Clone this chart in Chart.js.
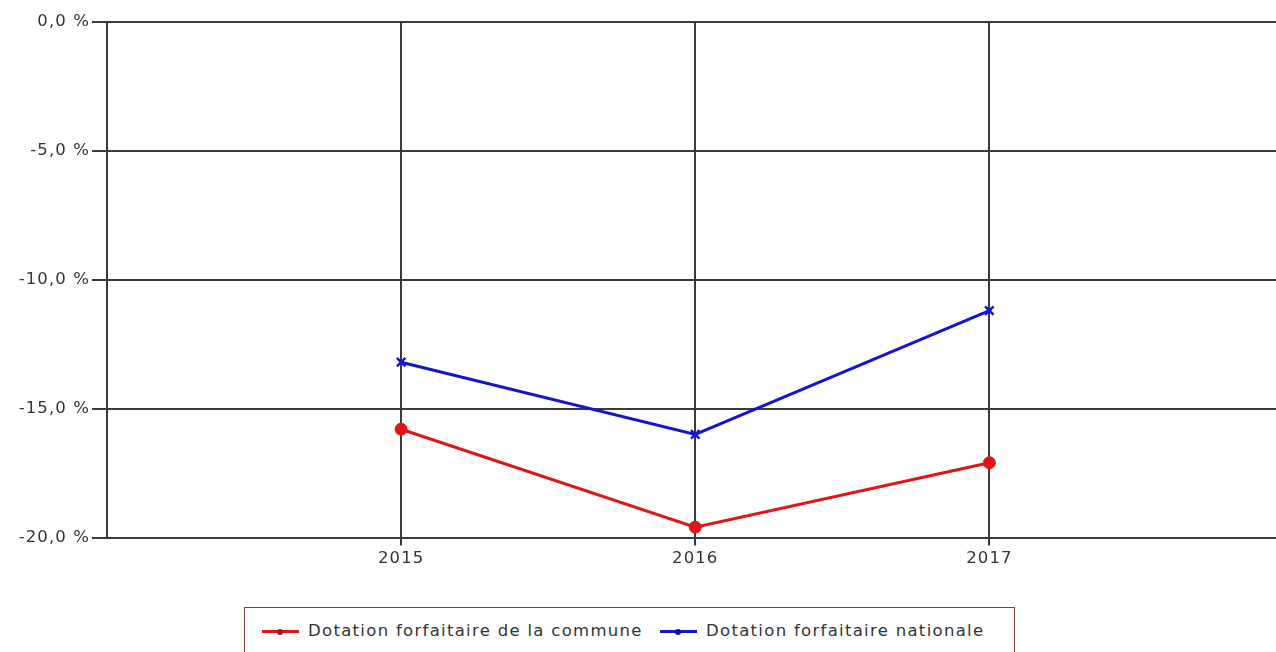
<!DOCTYPE html>
<html>
<head>
<meta charset="utf-8">
<script src="https://cdn.jsdelivr.net/npm/chart.js@4/dist/chart.umd.min.js"></script>
<style>
  html, body { margin: 0; padding: 0; background: #fff; overflow: hidden; width: 1276px; height: 652px; }
  #c { position: absolute; left: 0; top: 0; }
  #legend {
    position: absolute; left: 244px; top: 607px; width: 771px; height: 60px;
    border: 1.5px solid #8a3c3c; box-sizing: border-box;
    font-family: "DejaVu Sans", Verdana, sans-serif; font-size: 16.5px; letter-spacing: 1.3px; color: #333;
  }
  .item { position: absolute; top: 13px; white-space: nowrap; }
  .mark { position: absolute; top: 9px; width: 37px; height: 3px; }
  .mark i { position: absolute; left: 15px; top: -1.5px; width: 6px; height: 6px; border-radius: 3px; }
  .label { position: absolute; left: 46px; top: 0; }
</style>
</head>
<body>
<canvas id="c" width="1292" height="600"></canvas>
<div id="legend">
  <div class="item" style="left:17px"><div class="mark" style="background:#e01515"><i style="background:#b01010"></i></div><span class="label" id="l0"></span></div>
  <div class="item" style="left:415px"><div class="mark" style="background:#1515d0"><i style="background:#1010a0"></i></div><span class="label" id="l1"></span></div>
</div>
<script>
// Years shown on the horizontal axis
const years = [2015, 2016, 2017];
// Annual change (%) of each allocation
const communeValues = [-15.8, -19.6, -17.1];
const nationaleValues = [-13.2, -16.0, -11.2];
const seriesNames = ['Dotation forfaitaire de la commune', 'Dotation forfaitaire nationale'];
const yTicks = [-20, -15, -10, -5, 0];

document.getElementById('l0').textContent = seriesNames[0];
document.getElementById('l1').textContent = seriesNames[1];

const toPoints = vals => years.map((yr, i) => ({ x: yr, y: vals[i] }));
const fmtPct = v => v.toFixed(1).replace('.', ',') + ' %';

const gridColor = '#3a3a3a';
const font = { family: '"DejaVu Sans", Verdana, sans-serif', size: 16.5 };

// Wider tracking for the axis labels
const spacedText = {
  id: 'spacedText',
  beforeDraw(chart) { chart.ctx.letterSpacing = '1.1px'; }
};

new Chart(document.getElementById('c'), {
  type: 'line',
  plugins: [spacedText],
  data: {
    datasets: [
      {
        label: seriesNames[0],
        data: toPoints(communeValues),
        borderColor: '#e01515',
        backgroundColor: '#e01515',
        borderWidth: 3,
        pointStyle: 'circle',
        pointRadius: 6,
        pointBorderWidth: 1,
        tension: 0
      },
      {
        label: seriesNames[1],
        data: toPoints(nationaleValues),
        borderColor: '#1515d0',
        backgroundColor: '#1515d0',
        borderWidth: 3,
        pointStyle: 'crossRot',
        pointRadius: 6,
        pointBorderWidth: 2.5,
        tension: 0
      }
    ]
  },
  options: {
    responsive: false,
    animation: false,
    layout: { padding: { top: 22, right: 0, left: 0, bottom: 0 } },
    plugins: { legend: { display: false }, tooltip: { enabled: false } },
    scales: {
      x: {
        type: 'linear',
        min: 2014,
        max: 2018,
        afterBuildTicks: s => { s.ticks = years.map(v => ({ value: v })); },
        afterFit: s => { s.height = 62.5; },
        grid: { color: gridColor, lineWidth: 2, tickLength: 8, drawTicks: true },
        border: { display: true, color: gridColor, width: 2 },
        ticks: { color: '#333', font, padding: 3, callback: v => String(v), maxRotation: 0 }
      },
      y: {
        min: -20,
        max: 0,
        afterBuildTicks: s => { s.ticks = yTicks.map(v => ({ value: v })); },
        afterFit: s => { s.width = 107; },
        grid: { color: gridColor, lineWidth: 2, tickLength: 15 },
        border: { display: true, color: gridColor, width: 2 },
        ticks: { color: '#333', font, padding: 2, callback: v => fmtPct(v) }
      }
    }
  }
});
</script>
</body>
</html>
